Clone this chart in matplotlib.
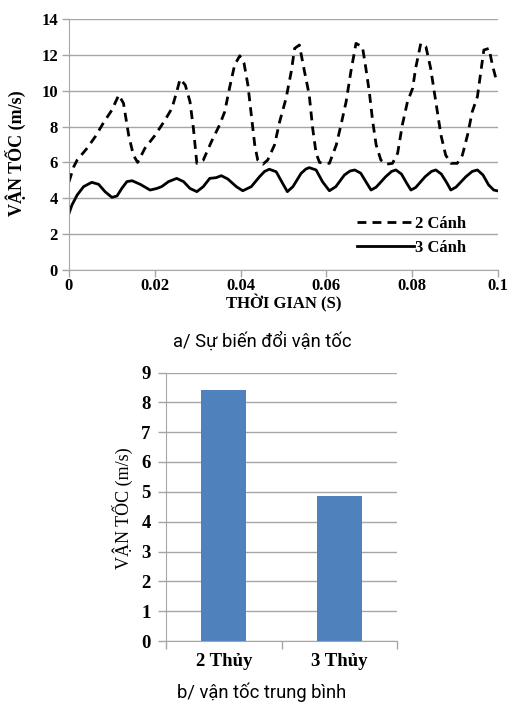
import matplotlib.pyplot as plt

# --- van toc theo thoi gian (hinh a) ---
t_2canh = [0.0, 0.0011, 0.0019, 0.0042, 0.0061, 0.0081, 0.0100, 0.0116, 0.0127, 0.0139,
           0.0150, 0.0160, 0.0177, 0.0201, 0.0224, 0.0240, 0.0251, 0.0259, 0.0271, 0.0282,
           0.0290, 0.0298, 0.0313, 0.0332, 0.0351, 0.0363, 0.0374, 0.0386, 0.0398, 0.0408,
           0.0417, 0.0425, 0.0433, 0.0440, 0.0452, 0.0463, 0.0479, 0.0491, 0.0506, 0.0518,
           0.0526, 0.0537, 0.0549, 0.0560, 0.0568, 0.0576, 0.0584, 0.0595, 0.0607, 0.0623,
           0.0634, 0.0646, 0.0657, 0.0669, 0.0684, 0.0692, 0.0700, 0.0708, 0.0716, 0.0727,
           0.0739, 0.0754, 0.0766, 0.0777, 0.0789, 0.0801, 0.0808, 0.0820, 0.0832, 0.0843,
           0.0855, 0.0867, 0.0878, 0.0890, 0.0905, 0.0917, 0.0929, 0.0940, 0.0952, 0.0960,
           0.0967, 0.0979, 0.0987, 0.0995]
v_2canh = [4.92, 5.76, 6.13, 6.79, 7.43, 8.24, 8.92, 9.76, 9.30, 7.53,
           6.41, 6.00, 6.79, 7.53, 8.37, 9.02, 9.94, 10.65, 10.32, 9.39,
           7.90, 5.95, 6.13, 7.16, 8.09, 8.83, 10.13, 11.43, 11.95, 11.53,
           10.32, 8.64, 6.97, 6.13, 5.90, 6.13, 6.97, 8.27, 9.58, 11.06,
           12.36, 12.55, 11.06, 9.76, 7.90, 6.51, 6.00, 5.95, 5.95, 6.97,
           8.09, 9.39, 11.06, 12.64, 12.45, 11.25, 9.94, 8.27, 6.97, 6.13,
           5.90, 5.95, 6.51, 8.09, 9.39, 10.13, 11.25, 12.64, 12.45, 11.25,
           9.39, 7.53, 6.41, 5.95, 5.95, 6.41, 7.53, 8.83, 9.67, 11.06,
           12.27, 12.36, 11.43, 10.69]

t_3canh = [0.0, 0.0007, 0.0019, 0.0034, 0.0053, 0.0069, 0.0084, 0.0100, 0.0112, 0.0123,
           0.0135, 0.0147, 0.0166, 0.0189, 0.0205, 0.0216, 0.0232, 0.0251, 0.0267, 0.0282,
           0.0298, 0.0313, 0.0328, 0.0343, 0.0355, 0.0370, 0.0390, 0.0405, 0.0425, 0.0444,
           0.0456, 0.0467, 0.0483, 0.0498, 0.0509, 0.0522, 0.0541, 0.0552, 0.0560, 0.0576,
           0.0591, 0.0607, 0.0622, 0.0642, 0.0655, 0.0666, 0.0680, 0.0694, 0.0704, 0.0716,
           0.0738, 0.0752, 0.0762, 0.0775, 0.0787, 0.0797, 0.0808, 0.0830, 0.0845, 0.0855,
           0.0868, 0.0881, 0.0890, 0.0902, 0.0925, 0.0940, 0.0952, 0.0965, 0.0978, 0.0990,
           0.0998]
v_3canh = [3.16, 3.63, 4.18, 4.65, 4.89, 4.78, 4.37, 4.05, 4.13, 4.55,
           4.93, 4.98, 4.78, 4.46, 4.55, 4.65, 4.93, 5.11, 4.93, 4.55,
           4.37, 4.65, 5.11, 5.15, 5.26, 5.08, 4.65, 4.42, 4.65, 5.20,
           5.50, 5.62, 5.48, 4.83, 4.37, 4.65, 5.39, 5.63, 5.71, 5.58,
           4.92, 4.42, 4.65, 5.30, 5.52, 5.58, 5.40, 4.85, 4.46, 4.62,
           5.20, 5.50, 5.58, 5.35, 4.85, 4.46, 4.60, 5.20, 5.50, 5.58,
           5.35, 4.85, 4.46, 4.62, 5.20, 5.50, 5.58, 5.30, 4.75, 4.46,
           4.42]

x_ticks = [0, 0.02, 0.04, 0.06, 0.08, 0.1]
x_ticklabels = ['0', '0.02', '0.04', '0.06', '0.08', '0.1']
y_ticks_a = [0, 2, 4, 6, 8, 10, 12, 14]

# --- van toc trung binh (hinh b) ---
loai = ['2 Thủy', '3 Thủy']
v_tb = [8.4, 4.87]
y_ticks_b = list(range(0, 10))

SERIF = 'Liberation Serif'
CAPTION = 'Roboto'
GRID = '#a6a6a6'

fig = plt.figure(figsize=(5.1, 7.05), dpi=100)

# hinh a
ax1 = fig.add_axes([69 / 510, (705 - 270) / 705, 429 / 510, 251 / 705])
ax1.plot(t_2canh, v_2canh, color='black', lw=2.0, linestyle=(0, (3.2, 2.2)), label='2 Cánh')
ax1.plot(t_3canh, v_3canh, color='black', lw=2.0, label='3 Cánh')
ax1.set_xlim(0, 0.1)
ax1.set_ylim(0, 14)
ax1.set_xticks(x_ticks)
ax1.set_xticklabels(x_ticklabels)
ax1.set_yticks(y_ticks_a)
ax1.yaxis.grid(True, color=GRID, lw=1.0)
ax1.set_axisbelow(True)
for s in ['top', 'right']:
    ax1.spines[s].set_visible(False)
for s in ['left', 'bottom']:
    ax1.spines[s].set_color(GRID)
ax1.tick_params(axis='both', colors=GRID, length=5, width=1)
ax1.tick_params(axis='x', pad=1)
ax1.tick_params(axis='y', pad=3)
for lab in ax1.get_xticklabels() + ax1.get_yticklabels():
    lab.set_fontfamily(SERIF)
    lab.set_fontweight('bold')
    lab.set_fontsize(12)
    lab.set_color('black')
ax1.set_xlabel('THỜI GIAN (S)', fontfamily=SERIF, fontweight='bold', fontsize=12, labelpad=0)
ax1.set_ylabel('VẬN TỐC (m/s)', fontfamily=SERIF, fontweight='bold', fontsize=13)
ax1.yaxis.set_label_coords(-0.100, 0.466)
ax1.legend(loc='center left', bbox_to_anchor=(0.637, 0.135), frameon=False,
           handlelength=3.4, handletextpad=0.05, labelspacing=0.5,
           prop={'family': SERIF, 'weight': 'bold', 'size': 12})

fig.text(262 / 510, 1 - 341 / 705, 'a/ Sự biến đổi vận tốc', ha='center', va='center',
         fontsize=13.2, family=CAPTION)

# hinh b
ax2 = fig.add_axes([166 / 510, (705 - 641) / 705, 231.5 / 510, 268.5 / 705])
ax2.bar(range(len(loai)), v_tb, width=0.39, color='#4f81bd')
ax2.set_xlim(-0.5, len(loai) - 0.5)
ax2.set_ylim(0, 9)
ax2.set_yticks(y_ticks_b)
ax2.set_xticks([-0.5, 0.5, 1.5])
ax2.set_xticklabels([])
ax2.set_xticks(range(len(loai)), minor=True)
ax2.set_xticklabels(loai, minor=True)
ax2.tick_params(axis='x', which='minor', length=0, pad=9)
ax2.yaxis.grid(True, color=GRID, lw=1.0)
ax2.set_axisbelow(True)
for s in ['top', 'right']:
    ax2.spines[s].set_visible(False)
for s in ['left', 'bottom']:
    ax2.spines[s].set_color(GRID)
ax2.tick_params(axis='both', which='major', colors=GRID, length=6, width=1, pad=5)
for lab in ax2.get_yticklabels() + ax2.get_xticklabels(minor=True):
    lab.set_fontfamily(SERIF)
    lab.set_fontweight('bold')
    lab.set_fontsize(13.5)
    lab.set_color('black')
ax2.set_ylabel('VẬN TỐC (m/s)', fontfamily=SERIF, fontsize=13)
ax2.yaxis.set_label_coords(-0.143, 0.495)

fig.text(262 / 510, 1 - 692 / 705, 'b/ vận tốc trung bình', ha='center', va='center',
         fontsize=13.2, family=CAPTION)

fig.savefig('out.png', dpi=100)
